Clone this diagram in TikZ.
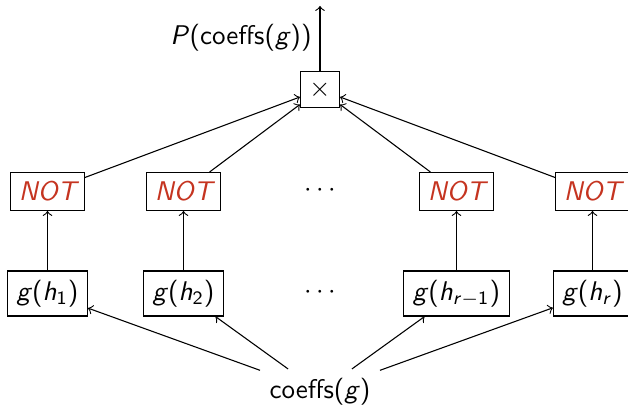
\documentclass[tikz,border=0pt]{standalone}
\usepackage{xcolor}
\definecolor{notred}{RGB}{197,52,32}
\begin{document}
\begin{tikzpicture}[x=0.37pt,y=-0.37pt,
  every node/.style={font=\sffamily},
  box/.style={draw, line width=0.4pt, inner sep=3.33pt},
  notbox/.style={box, inner xsep=3pt, text=notred, font=\sffamily\itshape},
  link/.style={->, line width=0.4pt}]
\useasboundingbox (0,0) rectangle (628,408);

% product gate and its output
\node[box, minimum width=14pt, minimum height=13pt] (prod) at (320,89.5) {$\times$};
\coordinate (out) at (320,6);
\node (lbl) at (241,38) {\textit{P}(coeffs(\textit{g}))};

% NOT gates
\node[notbox] (n1) at (47.5,191.5) {NOT};
\node[notbox] (n2) at (183.5,191.5) {NOT};
\node (d1) at (320,191) {$\cdots$};
\node[notbox] (n3) at (456.5,191.5) {NOT};
\node[notbox] (n4) at (592.5,191.5) {NOT};

% evaluations g(h_i)
\node[box] (g1) at (47.5,293.5) {\textit{g}(\textit{h}\textsubscript{1})};
\node[box] (g2) at (183.5,293.5) {\textit{g}(\textit{h}\textsubscript{2})};
\node (d2) at (320,293) {$\cdots$};
\node[box] (g3) at (456.5,293.5) {\textit{g}(\textit{h}\textsubscript{\textit{r}$-$1})};
\node[box] (g4) at (592.5,293.5) {\textit{g}(\textit{h}\textsubscript{\textit{r}})};

% input
\node (in) at (320,392) {coeffs(\textit{g})};

% connections
\draw[link] (prod) -- (out);
\foreach \i in {1,...,4} {
  \draw[link] (n\i) -- (prod);
  \draw[link] (g\i) -- (n\i);
  \draw[link] (in) -- (g\i);
}
\end{tikzpicture}
\end{document}
